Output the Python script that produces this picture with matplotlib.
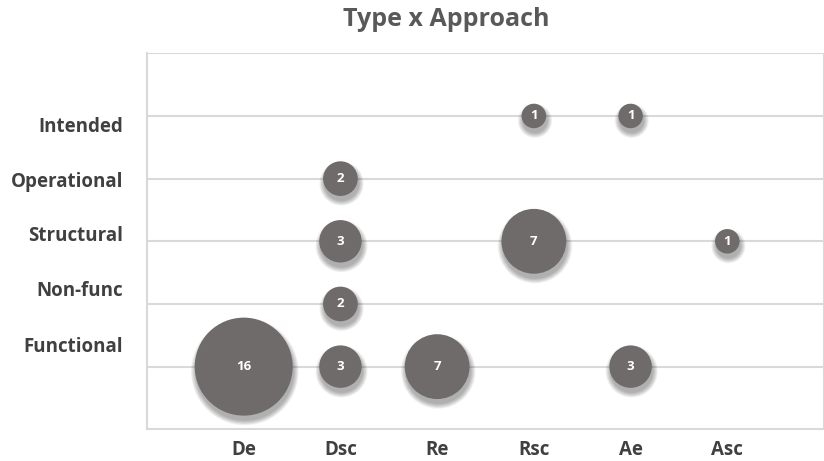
import numpy as np
import matplotlib
matplotlib.use("Agg")
import matplotlib.pyplot as plt
import matplotlib.transforms as mtransforms

approaches = ["De", "Dsc", "Re", "Rsc", "Ae", "Asc"]
types = ["Functional", "Non-func", "Structural", "Operational", "Intended"]

# (approach, type, count)
point_approach = ["De", "Dsc", "Re", "Ae", "Dsc", "Dsc", "Rsc", "Asc", "Dsc", "Rsc", "Ae"]
point_type = ["Functional", "Functional", "Functional", "Functional", "Non-func",
              "Structural", "Structural", "Structural", "Operational", "Intended", "Intended"]
counts = [16, 3, 7, 3, 2, 3, 7, 1, 2, 1, 1]

# where the row captions sit along the y axis
type_label_pos = [1.36, 2.24, 3.13, 3.98, 4.86]

W, H = 824, 461
left_px, top_px, bottom_px = 147, 53.3, 429.3
unit_px = 98.3
fig = plt.figure(figsize=(W / 100, H / 100), dpi=100)
ax = fig.add_axes([left_px / W, 1 - bottom_px / H, 1 - left_px / W, (bottom_px - top_px) / H])

xs = np.array([approaches.index(a) + 1 for a in point_approach], dtype=float)
ys = np.array([types.index(t) + 1 for t in point_type], dtype=float)
vals = np.array(counts, dtype=float)

# bubble area proportional to value; largest bubble ~98 px across
max_d_pt = 98 * 0.72
diam = max_d_pt * np.sqrt(vals / vals.max())

grid_c = "#d9d9d9"
ax.set_xlim(0, (W - left_px) / unit_px)
ax.set_ylim(0, 6)
ax.set_xticks(np.arange(1, 8), minor=True)
ax.set_yticks(np.arange(1, 7), minor=True)
ax.grid(which="minor", color=grid_c, linewidth=1.5, zorder=0)
ax.tick_params(which="minor", length=0)
ax.set_axisbelow(True)
for s in ["top", "right"]:
    ax.spines[s].set_visible(False)
for s in ["left", "bottom"]:
    ax.spines[s].set_color(grid_c)
    ax.spines[s].set_linewidth(1.5)

# soft drop shadow
shadow_tr = mtransforms.offset_copy(ax.transData, fig=fig, x=0.8, y=-3.5, units="points")
for k in range(8):
    grow = 7 - k
    ax.scatter(xs, ys, s=(diam + grow * 1.0) ** 2, color="black", alpha=0.045,
               linewidths=0, transform=shadow_tr, zorder=2)

ax.scatter(xs, ys, s=diam ** 2, color="#706b6b", linewidths=0, zorder=3)
for x, y, v in zip(xs, ys, counts):
    ax.text(x, y, str(v), ha="center", va="center", color="white",
            fontsize=9.5, fontweight="bold", family="Open Sans", zorder=4)

label_c = "#404040"
ax.set_xticks(np.arange(1, len(approaches) + 1))
ax.set_xticklabels(approaches)
ax.set_yticks(type_label_pos)
ax.set_yticklabels(types)
ax.tick_params(which="major", length=0, labelcolor=label_c, labelsize=13.5)
for lab in ax.get_xticklabels() + ax.get_yticklabels():
    lab.set_fontweight("bold")
    lab.set_family("Open Sans")
ax.tick_params(axis="x", pad=8)
ax.tick_params(axis="y", pad=17)

fig.text(446 / W, 1 - 19 / H, "Type x Approach", ha="center", va="center",
         fontsize=18, fontweight="bold", color="#595959", family="Open Sans")

fig.savefig("out.png", dpi=100, facecolor="white")
